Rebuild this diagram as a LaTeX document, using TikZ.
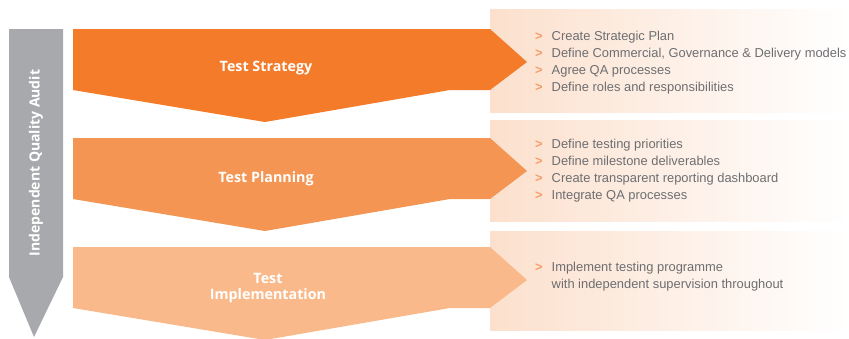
\documentclass[tikz,border=0pt]{standalone}
\usepackage{fontspec}
\setmainfont{Liberation Sans}
\newfontfamily\headfont{Open Sans}
\usepackage{xcolor}
\usepackage{tikz}
\usetikzlibrary{calc}
\definecolor{strategy}{RGB}{244,123,42}
\definecolor{planning}{RGB}{244,149,83}
\definecolor{implement}{RGB}{249,185,138}
\definecolor{audit}{RGB}{167,169,172}
\definecolor{panel}{RGB}{252,224,205}
\definecolor{bullet}{RGB}{245,158,105}
\definecolor{listtext}{RGB}{109,110,113}
\tikzset{
	title/.style={text=white, align=center, inner sep=0pt,
			font=\headfont\bfseries\fontsize{14.3}{16.7}\selectfont},
	items/.style={anchor=base west, inner sep=0pt, text=listtext,
			font=\fontsize{12.9}{17.3}\selectfont}
}
\newcommand{\gt}{\textcolor{bullet}{\textbf{>}}}

\begin{document}
\begin{tikzpicture}[x=1pt,y=-1pt]
		\useasboundingbox (0,0) rectangle (849,338);
		\clip (0,0) rectangle (849,338);
		
		% panels
		\shade[left color=panel, right color=white] (490,9) rectangle (849,112);
		\shade[left color=panel, right color=white] (490,120) rectangle (849,221);
		\shade[left color=panel, right color=white] (490,231) rectangle (849,330);
		
		% audit arrow
		\coordinate (A) at (9,29);
		\fill[audit] (A) -- ++(54,0) -- ++(0,248) -- ++(-29,60) -- ++(-25,-60) -- cycle;
		\node[rotate=90, text=white, font=\headfont\bfseries\fontsize{14}{15}\selectfont] (audit) at (36,163) {Independent Quality Audit};
		
		% bands
		\coordinate (S) at (73,29);
		\coordinate (P) at (73,138);
		\coordinate (I) at (73,247);
		\fill[strategy] (S) -- ++(417,0) -- ++(37,33) -- ++(-37,28) -- ++(-40,0) -- ++(-185,32) -- ++(-192,-32) -- cycle;
		\fill[planning] (P) -- ++(417,0) -- ++(37,33) -- ++(-37,28) -- ++(-40,0) -- ++(-185,32) -- ++(-192,-32) -- cycle;
		\fill[implement] (I) -- ++(417,0) -- ++(37,33) -- ++(-37,28) -- ++(-40,0) -- ++(-185,32) -- ++(-192,-32) -- cycle;
		
		\node[title] (strat) at (266,68) {Test Strategy};
		\node[title] (plan) at (266,179) {Test Planning};
		\node[title] (impl) at (268,288) {Test\\Implementation};
		
		% lists
		\node[items] (stratlist) at (535,40) {\begin{tabular}[t]{@{}l@{\hspace{9pt}}l@{}}
				\gt & Create Strategic Plan\\
				\gt & Define Commercial, Governance \& Delivery models\\
				\gt & Agree QA processes\\
				\gt & Define roles and responsibilities
			\end{tabular}};
		\node[items] (planlist) at (535,148) {\begin{tabular}[t]{@{}l@{\hspace{9pt}}l@{}}
				\gt & Define testing priorities\\
				\gt & Define milestone deliverables\\
				\gt & Create transparent reporting dashboard\\
				\gt & Integrate QA processes
			\end{tabular}};
		\node[items] (impllist) at (535,271) {\begin{tabular}[t]{@{}l@{\hspace{9pt}}l@{}}
				\gt & Implement testing programme\\
				& with independent supervision throughout
			\end{tabular}};
	\end{tikzpicture}
\end{document}
